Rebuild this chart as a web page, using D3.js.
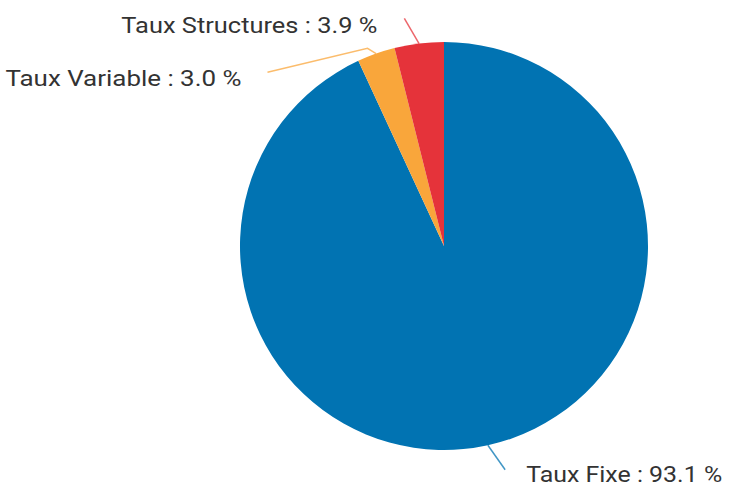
<!DOCTYPE html>
<html lang="fr">
<head>
    <meta charset="UTF-8">
    <script src="https://d3js.org/d3.v7.min.js"></script>
    <style>
        body { margin: 0; background: #fff; font-family: Roboto, "Liberation Sans", sans-serif; }
        .label { font-size: 22px; fill: #333; }
    </style>
</head>
<body>
    <svg id="chart" width="734" height="488"></svg>
    <script>
        // données
        const categories = ["Taux Fixe", "Taux Variable", "Taux Structures"];
        const values = [93.1, 3.0, 3.9];
        const colors = ["#0173b2", "#f9a63b", "#e5333a"];

        const svg = d3.select("#chart");
        const cx = 444, cy = 246, radius = 204;

        const data = categories.map((c, i) => ({ name: c, value: values[i], color: colors[i] }));

        const pie = d3.pie().sort(null).value(d => d.value);
        const arcs = pie(data);
        const arc = d3.arc().innerRadius(0).outerRadius(radius);

        const g = svg.append("g").attr("transform", `translate(${cx},${cy})`);

        g.selectAll("path.slice")
            .data(arcs)
            .enter()
            .append("path")
            .attr("class", "slice")
            .attr("d", arc)
            .attr("fill", d => d.data.color);

        // point sur le cercle, angle d3 (0 = haut, sens horaire)
        const pt = (a, r) => [Math.sin(a) * r, -Math.cos(a) * r];

        // lignes de rappel + textes (réglages par tranche)
        const layout = [
            { dr: 28, da: -0.05, tail: null, anchor: "start", dx: 21, dy: 12, len: 196 },
            { dr: 8, da: -0.03, tail: [-100, 24], anchor: "end", dx: -26, dy: 14, len: 236 },
            { dr: 27, da: -0.05, tail: null, anchor: "end", dx: -27, dy: 15, len: 256 }
        ];

        arcs.forEach((d, i) => {
            const mid = (d.startAngle + d.endAngle) / 2;
            const L = layout[i];
            const p0 = pt(mid, radius);
            const p1 = pt(mid + L.da, radius + L.dr);
            const pts = [p0, p1];
            if (L.tail) pts.push([p1[0] + L.tail[0], p1[1] + L.tail[1]]);
            const end = pts[pts.length - 1];

            g.append("path")
                .attr("d", d3.line()(pts))
                .attr("fill", "none")
                .attr("stroke", d.data.color)
                .attr("stroke-opacity", 0.75)
                .attr("stroke-width", 1.5);

            g.append("text")
                .attr("class", "label")
                .attr("x", end[0] + L.dx)
                .attr("y", end[1] + L.dy)
                .attr("text-anchor", L.anchor)
                .attr("textLength", L.len)
                .attr("lengthAdjust", "spacingAndGlyphs")
                .text(`${d.data.name} : ${d3.format(".1f")(d.data.value)} %`);
        });
    </script>
</body>
</html>
